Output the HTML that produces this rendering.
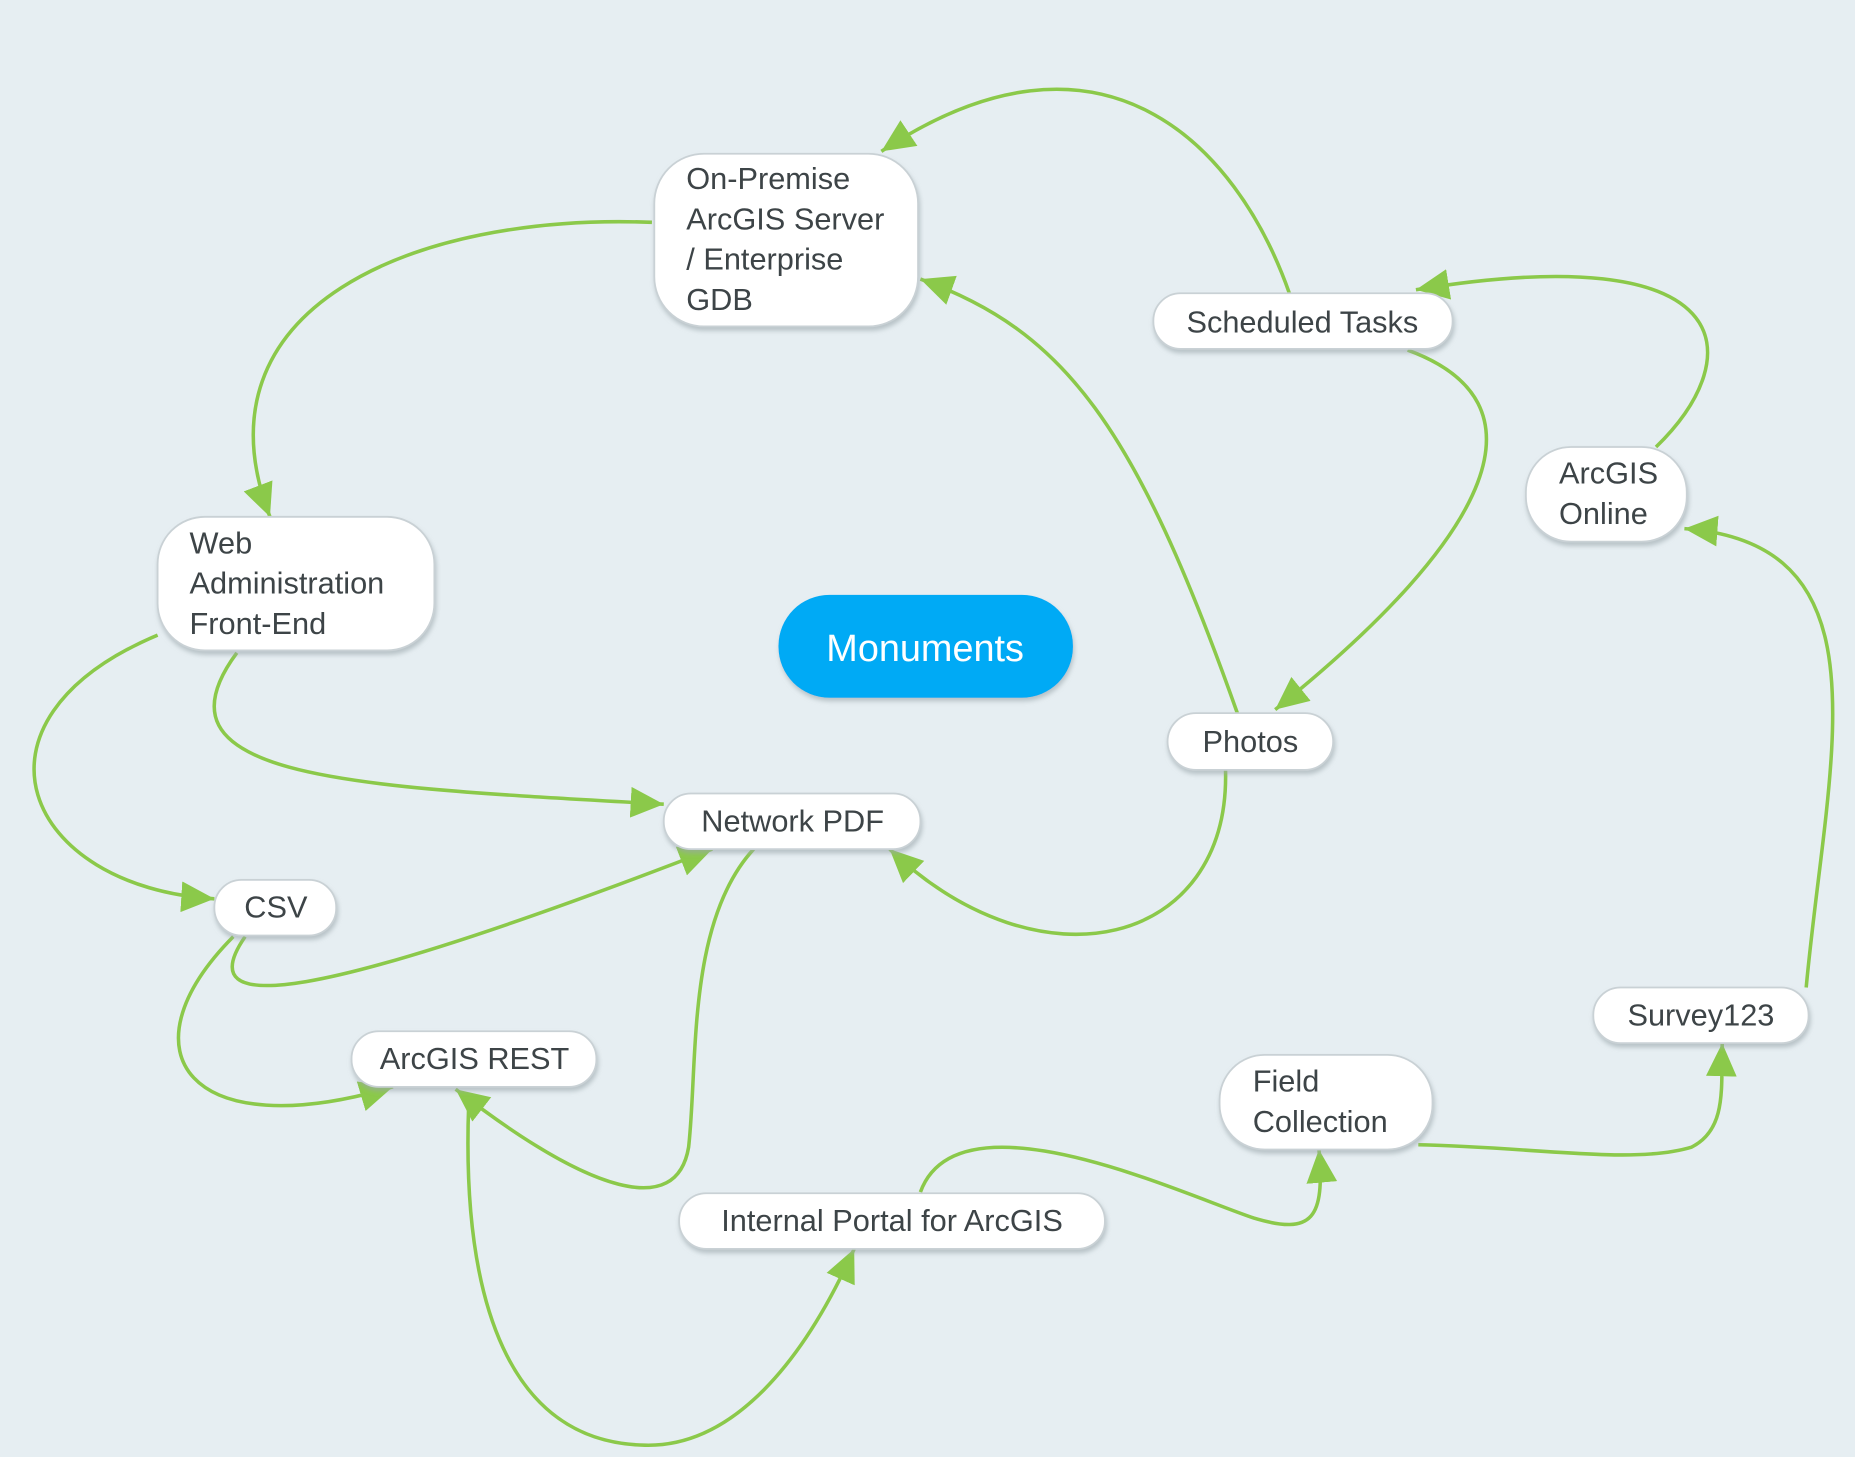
<!DOCTYPE html>
<html><head><meta charset="utf-8"><style>
html,body{margin:0;padding:0;background:#e6eef2;}
svg{display:block}
text{font-family:"Liberation Sans",sans-serif;fill:#3d4447;font-size:26px;}
</style></head><body>
<svg width="1855" height="1457" viewBox="0 0 1568 1232" xmlns="http://www.w3.org/2000/svg">
<defs>
<marker id="a" markerUnits="userSpaceOnUse" markerWidth="34" markerHeight="34" refX="28" refY="13" orient="auto">
<path d="M0,0 L28,13 L0,26 Z" fill="#8bc94a"/>
</marker>
<filter id="sh" x="-10%" y="-10%" width="120%" height="140%">
<feDropShadow dx="1" dy="3" stdDeviation="2" flood-color="#9aa5ab" flood-opacity="0.6"/>
</filter>
</defs>
<rect width="1568" height="1232" fill="#e6eef2"/>
<g fill="none" stroke="#8bc94a" stroke-width="3" marker-end="url(#a)">
<path d="M1090,248 C1045,120 930,5 745,128"/>
<path d="M551,188 C350,180 160,260 228,437"/>
<path d="M1046,603 C960,360 900,280 778,236"/>
<path d="M1190,296 C1310,340 1265,450 1078,600"/>
<path d="M1400,378 C1480,300 1470,200 1197,245"/>
<path d="M1527,835 C1545,640 1600,460 1424,447"/>
<path d="M133,537 C-40,610 20,750 181,760"/>
<path d="M200,552 C120,660 300,665 561,680"/>
<path d="M207,792 C160,860 260,850 602,718"/>
<path d="M197,792 C100,890 160,970 332,919"/>
<path d="M637,718 C580,780 590,900 582,970 C572,1030 500,1010 385,921"/>
<path d="M1036,651 C1040,800 880,840 752,718"/>
<path d="M396,935 C390,1100 430,1220 545,1222 C620,1224 680,1150 722,1056"/>
<path d="M778,1008 C810,920 1000,1010 1060,1030 C1110,1045 1120,1030 1115,972"/>
<path d="M1199,968 C1300,970 1380,985 1430,970 C1460,955 1455,920 1456,882"/>
</g>
<g fill="#fff" stroke="#c9d1d5" stroke-width="1.5" filter="url(#sh)">
<rect x="553" y="130" width="223" height="146" rx="42"/>
<rect x="133" y="437" width="234" height="113" rx="40"/>
<rect x="975" y="248" width="253" height="47" rx="23"/>
<rect x="1290" y="378" width="136" height="80" rx="38"/>
<rect x="987" y="603" width="140" height="48" rx="24"/>
<rect x="561" y="671" width="217" height="47" rx="23"/>
<rect x="181" y="744" width="103" height="47" rx="23"/>
<rect x="297" y="872" width="207" height="47" rx="23"/>
<rect x="574" y="1009" width="360" height="47" rx="23"/>
<rect x="1031" y="892" width="180" height="80" rx="38"/>
<rect x="1347" y="835" width="182" height="47" rx="23"/>
</g>
<rect x="658" y="503" width="249" height="87" rx="43" fill="#00aaf5" filter="url(#sh)"/>
<text x="782" y="559" text-anchor="middle" style="fill:#fff;font-size:32px">Monuments</text>
<text x="580" y="160">On-Premise</text>
<text x="580" y="194">ArcGIS Server</text>
<text x="580" y="228">/ Enterprise</text>
<text x="580" y="262">GDB</text>
<text x="160" y="468">Web</text>
<text x="160" y="502">Administration</text>
<text x="160" y="536">Front-End</text>
<text x="1101" y="281" text-anchor="middle">Scheduled Tasks</text>
<text x="1318" y="409">ArcGIS</text>
<text x="1318" y="443">Online</text>
<text x="1057" y="636" text-anchor="middle">Photos</text>
<text x="670" y="703" text-anchor="middle">Network PDF</text>
<text x="233" y="776" text-anchor="middle">CSV</text>
<text x="401" y="904" text-anchor="middle">ArcGIS REST</text>
<text x="754" y="1041" text-anchor="middle">Internal Portal for ArcGIS</text>
<text x="1059" y="923">Field</text>
<text x="1059" y="957">Collection</text>
<text x="1438" y="867" text-anchor="middle">Survey123</text>
</svg>
</body></html>
